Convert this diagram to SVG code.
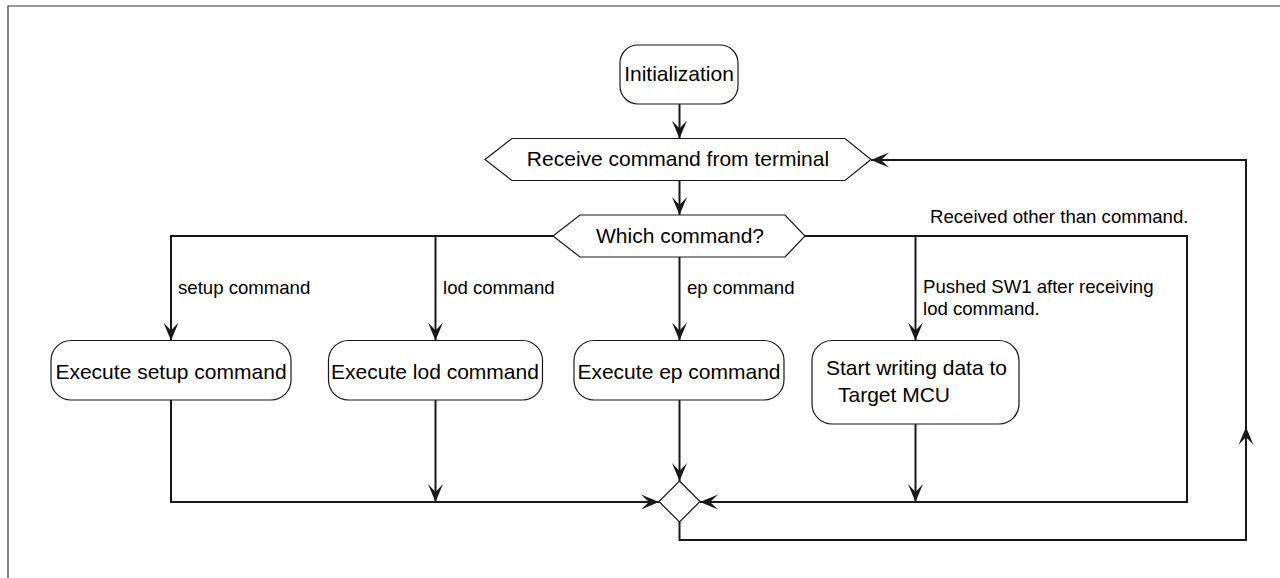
<svg xmlns="http://www.w3.org/2000/svg" width="1280" height="578" viewBox="0 0 1280 578">
<style>
.node{fill:#ffffff;stroke:#181818;stroke-width:1.2}
.t{font-family:"Liberation Sans",Arial,sans-serif;font-size:21px;fill:#000}
.c{text-anchor:middle}
.lbl{font-family:"Liberation Sans",Arial,sans-serif;font-size:18.6px;fill:#000}
.conn{fill:none;stroke:#181818;stroke-width:2}
.frame{fill:none;stroke:#333;stroke-width:1.2}
</style>
<defs>
<marker id="ah" markerUnits="userSpaceOnUse" markerWidth="20" markerHeight="18" refX="18" refY="8" orient="auto" viewBox="0 0 20 18">
<path d="M0,0.5 L18,8 L0,15.5 L8,8 Z" fill="#181818"/>
</marker>
</defs>
<path class="frame" d="M8,578 V6 H1280"/>
<g id="connectors">
<path class="conn" d="M679.5,104 V138.5" marker-end="url(#ah)"/>
<path class="conn" d="M679.5,180.5 V215" marker-end="url(#ah)"/>
<path class="conn" d="M553,236 H171 V340.5" marker-end="url(#ah)"/>
<path class="conn" d="M435.5,236 V340.5" marker-end="url(#ah)"/>
<path class="conn" d="M679.5,257 V340.5" marker-end="url(#ah)"/>
<path class="conn" d="M805,236 H1187 V502 H700" marker-end="url(#ah)"/>
<path class="conn" d="M915.5,236 V340.5" marker-end="url(#ah)"/>
<path class="conn" d="M171,400 V502 H659" marker-end="url(#ah)"/>
<path class="conn" d="M435.5,400 V502" marker-end="url(#ah)"/>
<path class="conn" d="M679.5,400 V481" marker-end="url(#ah)"/>
<path class="conn" d="M915.5,424 V502" marker-end="url(#ah)"/>
<path class="conn" d="M679.5,522 V540 H1246 V427" marker-end="url(#ah)"/>
<path class="conn" d="M1246,427 V160 H871" marker-end="url(#ah)"/>
<text class="lbl" x="178" y="294">setup command</text>
<text class="lbl" x="443" y="294">lod command</text>
<text class="lbl" x="687" y="294">ep command</text>
<text class="lbl" x="923" y="293">Pushed SW1 after receiving</text>
<text class="lbl" x="923" y="315">lod command.</text>
<text class="lbl" x="930" y="223">Received other than command.</text>
</g>
<g id="init">
<rect class="node" x="620" y="45" width="118" height="59" rx="18"/>
<text class="t c" x="679" y="81">Initialization</text>
</g>
<g id="receive">
<path class="node" d="M485,159.5 L512,138.5 H845 L871,159.5 L845,180.5 H512 Z"/>
<text class="t c" x="678" y="166">Receive command from terminal</text>
</g>
<g id="which">
<path class="node" d="M553,236 L580,215 H785 L805,236 L785,257 H580 Z"/>
<text class="t c" x="680" y="243">Which command?</text>
</g>
<g id="exec-setup">
<rect class="node" x="51" y="340.5" width="240" height="59.5" rx="20"/>
<text class="t c" x="171" y="379">Execute setup command</text>
</g>
<g id="exec-lod">
<rect class="node" x="328.5" y="340.5" width="214" height="59.5" rx="20"/>
<text class="t c" x="435" y="379">Execute lod command</text>
</g>
<g id="exec-ep">
<rect class="node" x="574" y="340.5" width="210" height="59.5" rx="20"/>
<text class="t c" x="679" y="379">Execute ep command</text>
</g>
<g id="start-writing">
<rect class="node" x="812" y="340.5" width="207" height="83.5" rx="20"/>
<text class="t" x="826" y="375">Start writing data to</text>
<text class="t" x="838" y="402">Target MCU</text>
</g>
<g id="merge">
<path class="node" d="M679.5,481 L700,501.5 L679.5,522 L659,501.5 Z"/>
</g>
</svg>
